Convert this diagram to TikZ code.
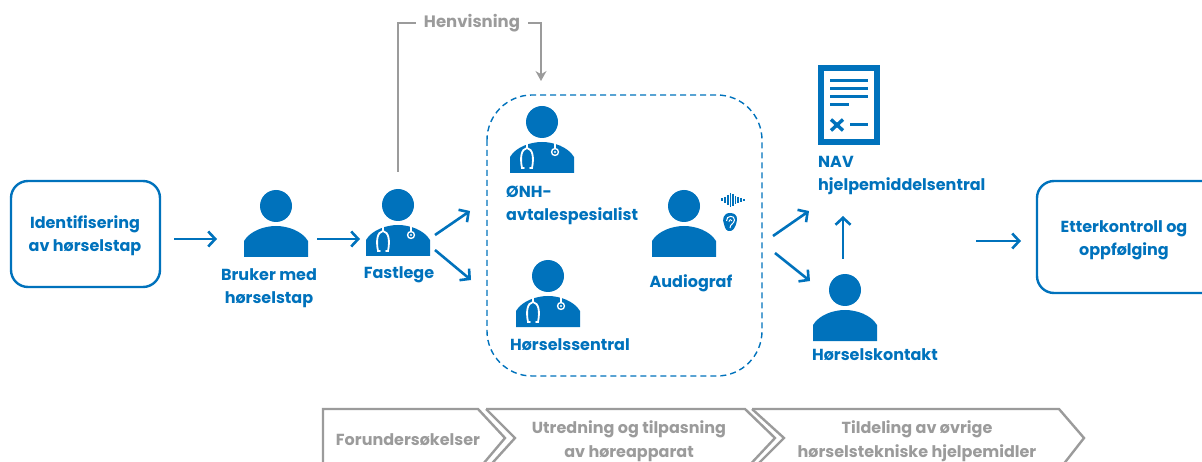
\documentclass[tikz,border=0pt]{standalone}
\usepackage{fontspec}
\setmainfont{Poppins}
\usetikzlibrary{arrows.meta,calc}
\definecolor{nblue}{HTML}{0072BC}
\definecolor{ngray}{HTML}{9B9B9B}
\tikzset{
  x=1pt,y=-1pt,
  lbl/.style={text=nblue,font=\fontsize{16}{23}\selectfont\bfseries,align=center,inner sep=0pt},
  lblleft/.style={lbl,align=left},
  glbl/.style={text=ngray,font=\fontsize{16}{24}\selectfont\bfseries,align=center,inner sep=0pt},
  flow/.style={draw=nblue,line width=2.6pt,-{Straight Barb[length=7pt,width=15pt,line width=2.6pt]}},
  gline/.style={draw=ngray,line width=1.1pt},
  chev/.style={draw=ngray,line width=2.4pt,miter limit=10},
  rbox/.style={draw=nblue,line width=2.4pt,rounded corners=17pt},
  person/.pic={
    \fill[nblue] (0,0) circle (16);
    \fill[nblue] (-32,51) -- (-32,35) .. controls (-26,25) and (-12,20) .. (0,20) .. controls (12,20) and (26,25) .. (32,35) -- (32,51) -- cycle;
  },
  doctor/.pic={
    \pic {person};
    \draw[white,line width=1.8pt,line cap=round] (-15,20) -- (-15,26);
    \draw[white,line width=1.8pt,line cap=round] (-18,46) -- (-20,46) .. controls (-22,36) and (-21,27) .. (-15,26) .. controls (-9,27) and (-8,36) .. (-10,46) -- (-12,46);
    \draw[white,line width=1.6pt] (13,20) -- (13,26);
    \fill[white] (13,30) circle (4.2);
    \fill[nblue] (13,30) circle (2.6);
    \fill[white] (13,30) circle (1.1);
  }
}
\begin{document}
\begin{tikzpicture}
\useasboundingbox (0,0) rectangle (1202,462);
% boxes
\draw[rbox] (11,181) rectangle (160,287);
\node[lbl] (n1) at (85,236) {Identifisering\\av hørselstap};
\draw[rbox] (1037,181) rectangle (1225,293);
\node[lbl] (n8) at (1124,240) {Etterkontroll og\\oppfølging};
% persons
\pic at (276,206) {person};
\pic at (398,205) {doctor};
\pic at (542,122) {doctor};
\pic at (548,276) {doctor};
\pic at (684,206) {person};
\pic at (845,290) {person};
\node[lbl] (n2) at (269,288) {Bruker med\\hørselstap};
\node[lbl] (n3) at (399,275) {Fastlege};
\node[lblleft,anchor=west] (n4) at (506,205) {ØNH-\\avtalespesialist};
\node[lbl] (n5) at (570,345) {Hørselssentral};
\node[lbl] (n6) at (691,283) {Audiograf};
\node[lbl] (n7) at (875,355) {Hørselskontakt};
\node[lblleft,anchor=west] (n9) at (818,176) {NAV\\hjelpemiddelsentral};
% sound icon
\foreach \xx/\hh in {-11/1.5,-8/3,-5/5,-2.5/7,0/6,2.5/4,5/3,8/2,11/1}
  \draw[nblue,line width=1.2pt] (733+\xx,200-\hh) -- (733+\xx,200+\hh);
% ear
\fill[nblue] (730,213) .. controls (723,213) and (722,220) .. (724,224) .. controls (725,228) and (726,232) .. (731,231) .. controls (735,230) and (737,222) .. (737,219) .. controls (737,215) and (734,213) .. (730,213) -- cycle;
\draw[white,line width=1pt] (726.5,221) .. controls (726,215) and (735,215) .. (734.5,220) .. controls (734,224) and (730,224) .. (730,228);
\draw[white,line width=.8pt] (729,222) .. controls (729,219) and (732,219) .. (732,221);
% document
\draw[nblue,line width=6pt] (821,68.5) rectangle (876.5,142.5);
\foreach \yy in {81,89,97} \draw[nblue,line width=3pt] (830,\yy) -- (868,\yy);
\draw[nblue,line width=3pt] (830,105) -- (849,105);
\draw[nblue,line width=3pt] (850,125) -- (868,125);
\draw[nblue,line width=3.4pt] (831,119.5) -- (843,130.5) (843,119.5) -- (831,130.5);
% dashed group
\draw[nblue,line width=1.4pt,dash pattern=on 6pt off 4pt,rounded corners=45pt] (487,95) rectangle (762,376);
% flow arrows
\coordinate (a1) at (174,239); \coordinate (a2) at (217,239);
\coordinate (b1) at (317,239); \coordinate (b2) at (360,239);
\coordinate (c1) at (435,235); \coordinate (c2) at (470,211);
\coordinate (d1) at (435,250); \coordinate (d2) at (471,280);
\coordinate (e1) at (773,236); \coordinate (e2) at (809,211);
\coordinate (f1) at (775,253); \coordinate (f2) at (810,281);
\coordinate (g1) at (843,259); \coordinate (g2) at (843,216);
\coordinate (h1) at (976,241); \coordinate (h2) at (1021,241);
\foreach \p/\q in {a1/a2,b1/b2,c1/c2,d1/d2,e1/e2,f1/f2,g1/g2,h1/h2}
  \draw[flow] (\p) -- (\q);
% referral
\node[glbl,font=\fontsize{16.5}{18}\selectfont\bfseries] (hv) at (472,23) {Henvisning};
\coordinate (r0) at (398,172); \coordinate (r1) at (398,23);
\coordinate (r2) at (541,23); \coordinate (r3) at (541,81);
\draw[gline] (r0) -- (r1) -- (hv.west-|r1) -- ([xshift=-8pt]hv.west);
\draw[gline,-{Stealth[length=10pt,width=11pt]}] ([xshift=8pt]hv.east) -- (hv.east-|r2) -- (r3);
% chevrons
\draw[chev] (323,470) -- (323,409) -- (478,409) -- (505,438) -- (478,470);
\draw[chev] (486,409) -- (745,409) -- (775,438) -- (745,470);
\draw[chev] (486,409) -- (515,438) -- (486,470);
\draw[chev] (752,409) -- (1059,409) -- (1084,438) -- (1059,470);
\draw[chev] (752,409) -- (784,438) -- (752,470);
\node[glbl] (s1) at (408,440) {Forundersøkelser};
\node[glbl] (s2) at (629,441) {Utredning og tilpasning\\av høreapparat};
\node[glbl] (s3) at (917,441) {Tildeling av øvrige\\hørselstekniske hjelpemidler};
\end{tikzpicture}
\end{document}
